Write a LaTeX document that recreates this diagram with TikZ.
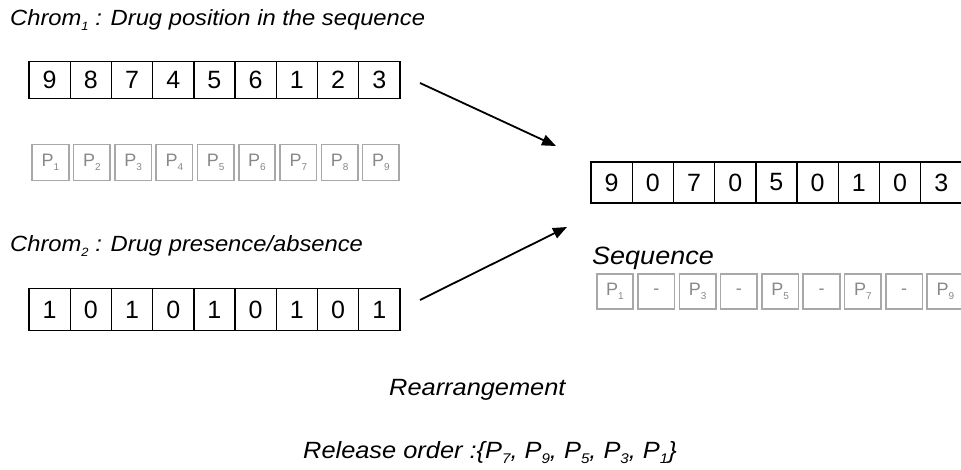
\documentclass[tikz,border=0pt]{standalone}
\usepackage{fontspec}
\setmainfont{Liberation Sans}
\newfontfamily\labfont[FakeStretch=1.08]{Liberation Sans}
\usetikzlibrary{arrows.meta}
\definecolor{boxgray}{HTML}{A8A8A8}
\definecolor{txtgray}{HTML}{888888}
\newcommand{\pbox}[1]{P\raisebox{-0.25em}{\fontsize{10}{10}\selectfont #1}}
\newcommand{\isub}[2]{\raisebox{-0.22em}{\fontsize{#1}{#1}\selectfont #2}}
\begin{document}
\begin{tikzpicture}[x=1pt,y=-1pt,
  cell/.style={draw=black,line width=1.4pt,minimum width=41.2pt,inner sep=0pt,
    font=\fontsize{25}{25}\selectfont},
  pcell/.style={draw=boxgray,line width=1.6pt,minimum width=36.5pt,minimum height=36pt,inner sep=0pt,
    text=txtgray,font=\fontsize{18}{18}\selectfont},
  lab/.style={anchor=base west,inner sep=0pt},
  arr/.style={line width=1.8pt,-{Triangle[length=14pt,width=11pt]}}]
\useasboundingbox (0,0) rectangle (961,470);

% Chromosome 1
\node[lab,font=\labfont\itshape\fontsize{22}{22}\selectfont] (t1) at (10,26)
  {Chrom\isub{12}{1} : Drug position in the sequence};
\foreach \v [count=\i] in {9,8,7,4,5,6,1,2,3}
  \node[cell,minimum height=37pt] (a\i) at ({29+41.2*(\i-0.5)},80) {\v};

% Drug labels
\foreach \i in {1,...,9}
  \node[pcell] (p\i) at ({50.5+41.3*(\i-1)},162.5) {\pbox{\i}};

% Chromosome 2
\node[lab,font=\labfont\itshape\fontsize{22}{22}\selectfont] (t2) at (10,252)
  {Chrom\isub{12}{2} : Drug presence/absence};
\foreach \v [count=\i] in {1,0,1,0,1,0,1,0,1}
  \node[cell,minimum height=42.5pt] (b\i) at ({29+41.2*(\i-0.5)},309.5) {\v};

% Result
\foreach \v [count=\i] in {9,0,7,0,5,0,1,0,3}
  \node[cell,minimum height=41pt] (c\i) at ({591+41.2*(\i-0.5)},182.5) {\v};

\node[lab,font=\labfont\itshape\fontsize{25}{25}\selectfont] (seq) at (592,265) {Sequence};
\foreach \t [count=\i] in {\pbox{1},-,\pbox{3},-,\pbox{5},-,\pbox{7},-,\pbox{9}}
  \node[pcell,minimum height=35pt] (q\i) at ({615+41.3*(\i-1)},291.5) {\t};

% Arrows
\coordinate (s1) at (420,83);
\coordinate (e1) at (556,146);
\coordinate (s2) at (420,300);
\coordinate (e2) at (567,227);
\draw[arr] (s1) -- (e1);
\draw[arr] (s2) -- (e2);

% Bottom texts
\node[lab,font=\labfont\itshape\fontsize{23.5}{23.5}\selectfont] (rea) at (389,395) {Rearrangement};
\node[lab,font=\labfont\itshape\fontsize{23.5}{23.5}\selectfont] (rel) at (303,458)
  {Release order :\{P\isub{14}{7}, P\isub{14}{9}, P\isub{14}{5}, P\isub{14}{3}, P\isub{14}{1}\}};
\end{tikzpicture}
\end{document}
